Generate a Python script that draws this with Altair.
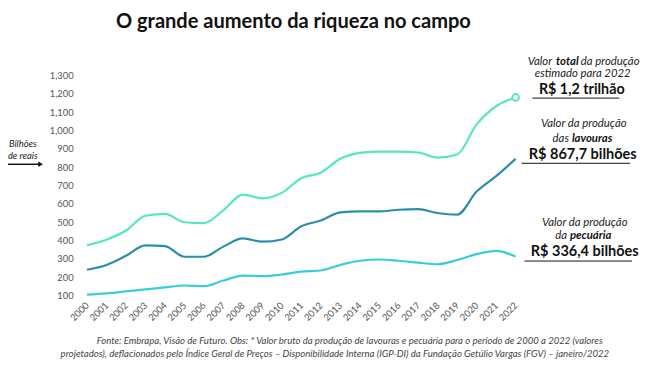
import altair as alt
import pandas as pd

years = list(range(2000, 2023))
total = [375, 405, 455, 535, 545, 500, 495, 565, 650, 630, 660, 740, 770, 846, 878, 885, 885, 880, 852, 869, 1033, 1132, 1180]
lavouras = [241, 267, 317, 374, 370, 312, 312, 367, 412, 394, 406, 478, 509, 554, 559, 559, 568, 571, 550, 541, 667, 751, 845]
pecuaria = [105, 112, 123, 134, 145, 155, 152, 182, 209, 206, 215, 231, 237, 267, 290, 297, 290, 280, 271, 294, 326, 344, 313]
series_names = ["Total", "Lavouras", "Pecuária"]
series_colors = ["#55e6c2", "#2a8eaa", "#38cddb"]
y_ticks = list(range(100, 1400, 100))

FONT = "Lato"

rows = []
for name, vals in zip(series_names, [total, lavouras, pecuaria]):
    for yr, v in zip(years, vals):
        rows.append({"ano": yr, "valor": v, "serie": name})
df = pd.DataFrame(rows)

x_enc = alt.X("ano:Q", scale=alt.Scale(domain=[2000, 2022], nice=False, zero=False),
              axis=alt.Axis(values=years, format="d", labelAngle=-45, labelAlign="right",
                            labelBaseline="middle", grid=False, domain=False, ticks=False,
                            labelPadding=8, labelColor="#555555", labelFont=FONT,
                            labelFontSize=9.5, labelOverlap=False, title=None))
y_enc = alt.Y("valor:Q", scale=alt.Scale(domain=[100, 1300], nice=False, zero=False),
              axis=alt.Axis(values=y_ticks, format=",d", grid=False, domain=False, ticks=False,
                            labelPadding=14, labelColor="#555555", labelFont=FONT,
                            labelFontSize=9.5, labelOverlap=False, title=None))

lines = alt.Chart(df).mark_line(interpolate="monotone", strokeWidth=2.2).encode(
    x=x_enc, y=y_enc,
    color=alt.Color("serie:N", scale=alt.Scale(domain=series_names, range=series_colors), legend=None),
)

end_point = alt.Chart(df[(df.serie == "Total") & (df.ano == 2022)]).mark_point(
    shape="circle", size=45, filled=True, fill="white", stroke=series_colors[0], strokeWidth=2, opacity=1
).encode(x=x_enc, y=y_enc)


def txt(text, x, y, size=11.5, style="italic", weight="normal", align="center", color="#222222"):
    return alt.Chart(pd.DataFrame({"t": [text]})).mark_text(
        font=FONT, fontSize=size, fontStyle=style, fontWeight=weight, align=align,
        baseline="middle", color=color
    ).encode(text="t:N", x=alt.value(x), y=alt.value(y))


def rule(x1, x2, y, color="#111111", w=1):
    return alt.Chart(pd.DataFrame({"a": [0]})).mark_rule(color=color, strokeWidth=w).encode(
        x=alt.value(x1), x2=alt.value(x2), y=alt.value(y))


annos = [
    txt("O grande aumento da riqueza no campo", 209, -54, size=20.3, style="normal", weight="bold",
        color="#111111"),
    txt("Valor", 471, -14, align="right"),
    txt("total", 475, -14, weight="bold", align="left", color="#111111"),
    txt("da produção", 500, -14, align="left"),
    txt("estimado para 2022", 502, -1),
    txt("R$ 1,2 trilhão", 501, 15, size=14.5, style="normal", weight="bold", color="#111111"),
    rule(451, 539, 23),
    txt("Valor da produção", 503, 49),
    txt("das", 488, 64, align="right"),
    txt("lavouras", 491, 64, weight="bold", align="left", color="#111111"),
    txt("R$ 867,7 bilhões", 502, 81, size=14.7, style="normal", weight="bold", color="#111111"),
    rule(440, 550, 89),
    txt("Valor da produção", 504, 149),
    txt("da", 486, 163, align="right"),
    txt("pecuária", 489, 163, weight="bold", align="left", color="#111111"),
    txt("R$ 336,4 bilhões", 504, 179, size=14.7, style="normal", weight="bold", color="#111111"),
    rule(443, 552, 188),
    txt("Bilhões", -65, 69, size=9.5),
    txt("de reais", -65, 82, size=9.5),
    rule(-80, -48, 90, w=1.5),
    alt.Chart(pd.DataFrame({"a": [0]})).mark_point(shape="triangle-right", filled=True, size=30,
                                                   color="#111111", opacity=1).encode(
        x=alt.value(-47), y=alt.value(90)),
    txt("Fonte: Embrapa, Visão de Futuro. Obs: * Valor bruto da produção de lavouras e pecuária para o período de 2000 a 2022 (valores",
        266, 269, size=9.7, color="#444444"),
    txt("projetados), deflacionados pelo Índice Geral de Preços – Disponibilidade Interna (IGP-DI) da Fundação Getúlio Vargas (FGV) – janeiro/2022",
        251, 282, size=9.7, color="#444444"),
]

chart = alt.layer(lines, end_point, *annos).properties(
    width=434, height=223,
    autosize=alt.AutoSizeParams(type="none"),
    padding={"left": 80, "top": 66, "right": 128, "bottom": 68},
).configure_view(stroke=None)

chart.save("out.html", embed_options={"renderer": "svg", "actions": False})
